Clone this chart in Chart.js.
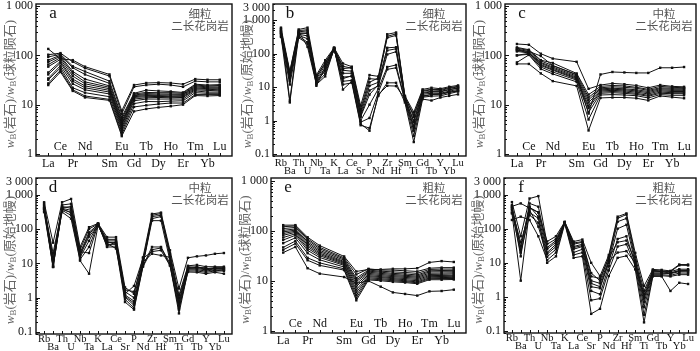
<!DOCTYPE html>
<html><head><meta charset="utf-8">
<script src="https://cdn.jsdelivr.net/npm/chart.js@4.4.1/dist/chart.umd.min.js"></script>
<style>
html,body{margin:0;padding:0;background:#fff;}
body{width:700px;height:351px;position:relative;overflow:hidden;}
canvas{position:absolute;}
</style></head><body>
<canvas id="pa"></canvas><canvas id="pb"></canvas><canvas id="pc"></canvas>
<canvas id="pd"></canvas><canvas id="pe"></canvas><canvas id="pf"></canvas>
<script>
// ---------- data ----------
const reeCategories = ['La','Ce','Pr','Nd','Pm','Sm','Eu','Gd','Tb','Dy','Ho','Er','Tm','Yb','Lu'];
const reeUpperRow = ['Ce','Nd','Eu','Tb','Ho','Tm','Lu'];
const reeHidden = ['Pm'];
const spiderCategories = ['Rb','Ba','Th','U','Nb','Ta','K','La','Ce','Sr','P','Nd','Zr','Hf','Sm','Ti','Gd','Tb','Y','Yb','Lu'];
const reeTickValues = [1, 10, 100, 1000];
const spiderTickValues = [0.1, 1, 10, 100, 1000, 3000];
const panelLetters = ['a','b','c','d','e','f'];
const grainSizes = ['细粒','细粒','中粒','中粒','粗粒','粗粒'];
const rockName = '二长花岗岩';
const reeTitle = '球粒陨石';
const spiderTitle = '原始地幔';
const rockWord = '岩石';

const reeFine = [
  [135, 85, 80, 59, null, 41, 7.5, 25, 27.5, 28, 27.5, 26, 33, 32, 32],
  [103, 111, 74, 55, null, 38, 6.5, 23, 25, 26, 25, 23, 30, 29, 29],
  [93, 105, 60, 47, null, 30, 5.6, 17, 19.7, 19, 18.5, 17.7, 26, 25, 25.5],
  [80, 101, 56, 41, null, 27, 5.1, 16.5, 17.7, 17.5, 17.5, 17, 25, 24, 24.5],
  [73, 96, 47, 33, null, 24, 4.6, 15.7, 16.8, 16.5, 16.5, 16.3, 24, 23, 23],
  [65, 90, 43, 29, null, 22.5, 4.2, 15.2, 16, 15.7, 15.8, 15.8, 23, 22, 22],
  [59, 83, 38, 26.5, null, 21, 4.0, 14.5, 15.3, 15.2, 15, 15.2, 22, 21, 21],
  [45, 76, 33, 24, null, 19.5, 3.7, 14, 14.5, 14.7, 14.5, 14.5, 21, 20.5, 20],
  [41, 70, 30, 22, null, 18, 3.4, 13, 13.8, 14, 13.8, 14, 20, 19.5, 19],
  [34, 62, 26.5, 20, null, 16.5, 3.1, 12, 13, 13, 13, 13, 19, 18, 18],
  [32, 56, 22, 17.5, null, 14.5, 2.8, 10.5, 11.6, 11.5, 11.8, 12, 17.5, 17, 17],
  [27, 50, 20, 15, null, 12.8, 2.5, 9, 9.7, 10.3, 10.8, 10.8, 16, 16, 16],
  [25, 46, 19, 14, null, 12.2, 2.3, 7.3, 8.2, 8.8, 9.3, 10, 15.3, 15, 15.3]
];
const spiderFine = [
  [600, 30, 530, 600, 23, 64, 150, 51, 41, 2.8, 23, 21, 380, 430, 5.5, 1.8, 8.6, 9.6, 9.0, 10.3, 11.3],
  [520, 25, 450, 480, 20, 55, 145, 42, 37, 2.2, 18, 17, 330, 390, 5.2, 1.3, 7.6, 8.3, 8.0, 9.2, 10.2],
  [470, 22, 400, 420, 18, 45, 140, 32, 30, 1.6, 11, 14, 150, 156, 4.8, 0.9, 6.6, 7.2, 7.2, 8.4, 9.3],
  [420, 20, 380, 340, 16, 38, 145, 26, 26, 1.3, 6, 12, 125, 140, 4.4, 0.7, 6.1, 6.6, 6.6, 7.6, 8.6],
  [390, 18, 350, 280, 15, 30, 140, 20, 21, 1.0, 3, 9, 40, 46, 4.1, 0.5, 5.5, 6.0, 6.0, 7.0, 8.0],
  [350, 3.5, 330, 220, 13, 25, 135, 15, 16, 0.9, 1.2, 7, 34, 38, 3.9, 0.35, 5.0, 5.4, 5.5, 6.4, 7.4],
  [560, 4, 460, 160, 12, 21, 140, 12, 13.5, 0.73, 0.6, 5.5, 13.5, 13.5, 3.5, 0.23, 4.4, 4.0, 4.9, 5.5, 6.1],
  [430, 15, 420, 400, 21, 50, 150, 8.5, 15, 0.8, 0.5, 6, 11, 10.8, 4.5, 1.0, 7.0, 7.5, 7.5, 8.5, 9.5],
  [480, 28, 490, 520, 11, 40, 150, 36, 38, 1.9, 14, 19, 300, 350, 5.0, 1.5, 8.0, 8.6, 8.5, 9.6, 10.6],
  [320, 12, 300, 200, 14, 33, 130, 18, 22, 1.4, 8, 11, 95, 115, 4.6, 0.6, 5.2, 6.1, 6.4, 7.1, 7.6]
];
const reeMedium = [
  [127, 120, 97, 62, null, 40, 6.6, 41, 46, 45, 44, 44, 56, 56, 58],
  [170, 164, 108, 86, null, 74, 21, 25, 27, 26, 24.5, 22, 25, 23.5, 23],
  [145, 130, 80, 70, null, 43, 16, 23.5, 24.5, 24, 22.5, 20.5, 23.5, 22.5, 22],
  [140, 125, 77, 62, null, 41, 14, 22, 23, 22.5, 21.5, 19.5, 22, 21.5, 21.5],
  [135, 118, 72, 58, null, 38, 12.5, 21, 21.5, 21, 20, 18.5, 21, 20.5, 20.5],
  [127, 113, 69, 55, null, 36, 11, 20, 20.5, 20, 19, 17.5, 20, 19.5, 19.5],
  [120, 112, 65, 52, null, 34.5, 9.5, 19, 19.5, 19, 18, 16.5, 19, 18.5, 18.5],
  [100, 110, 62, 50, null, 33, 8.5, 18, 18.5, 18, 17, 15.5, 18, 17.5, 17.5],
  [100, 105, 58, 46, null, 31.5, 7, 17, 17.5, 17, 16.2, 14.8, 17, 16.7, 16.7],
  [72, 102, 53, 42, null, 29, 5, 15.7, 16, 15.7, 15.2, 13.7, 16, 15.5, 15.5],
  [67, 67, 43, 30, null, 24, 3, 13.7, 14, 14, 13.5, 12.2, 15, 14.2, 13.5]
];
const spiderMedium = [
  [600, 40, 600, 750, 30, 113, 145, 58, 58, 2.0, 1.3, 15, 275, 300, 24, 1.85, 14.5, 16, 17, 19, 20],
  [550, 10, 500, 540, 25, 100, 140, 50, 50, 1.5, 1.0, 12, 250, 280, 20, 1.2, 8.5, 9, 8, 8, 8],
  [450, 9, 450, 400, 20, 80, 135, 45, 45, 1.2, 0.8, 10, 200, 230, 15, 0.8, 7.5, 8, 7, 7.5, 7.5],
  [400, 8, 400, 350, 17, 60, 130, 40, 40, 1.05, 0.6, 9, 175, 175, 12, 0.6, 7, 7, 6.5, 7, 7],
  [350, 8, 380, 300, 15, 45, 140, 35, 35, 0.9, 0.5, 8.5, 30, 30, 10, 0.45, 6.5, 6.5, 6, 6.5, 6.5],
  [310, 7.8, 350, 250, 13, 30, 145, 30, 30, 0.75, 0.45, 8, 25, 28, 9, 0.35, 6, 6, 5.5, 6, 6],
  [500, 12, 310, 200, 12, 5, 126, 38, 27, 1.3, 2.2, 14, 22, 24, 8.6, 0.5, 5.6, 5.5, 5, 5.5, 5],
  [380, 15, 420, 450, 22, 20, 135, 32, 42, 1.7, 1.5, 11, 19, 17, 15, 1.0, 8, 7.5, 7.5, 6, 6.5],
  [420, 20, 380, 300, 18, 70, 140, 42, 38, 1.1, 0.7, 10, 230, 250, 18, 0.7, 7.2, 7.5, 6.8, 7.2, 7.2]
];
const reeCoarse = [
  [37, 48, 18, 14, null, 12, 9, 10, 7.7, 5.9, 5.5, 5.1, 6.2, 6.3, 6.7],
  [131, 131, 75, 51, null, 31, 15.5, 17, 17, 17.5, 17.5, 18, 23.5, 25, 24],
  [122, 126, 70, 47, null, 29, 13.5, 17.5, 16.5, 16.5, 16, 15.5, 18, 18.5, 18.5],
  [112, 118, 66, 44, null, 27.5, 11.5, 16.5, 15.7, 15.2, 14.8, 14.2, 17, 17.3, 17.3],
  [103, 110, 61, 41, null, 26, 10.5, 15.7, 15, 14.2, 13.8, 13.2, 16, 16.2, 16.3],
  [96, 104, 57, 38.5, null, 24.5, 9.7, 15, 14.2, 13.5, 13, 12.5, 15.2, 15.3, 15.3],
  [89, 99, 53, 36, null, 23.5, 8.7, 14.2, 13.5, 12.8, 12.4, 11.9, 14.3, 14.4, 14.5],
  [82, 94, 49, 34, null, 22.5, 7.7, 13.5, 12.8, 12.2, 11.8, 11.3, 13.5, 13.6, 13.8],
  [74, 88, 45, 32, null, 21.5, 6.7, 12.8, 12.2, 11.6, 11.2, 10.7, 12.8, 12.9, 13],
  [66, 82, 41, 29.5, null, 20.5, 5.9, 12.2, 11.7, 11.1, 10.6, 10.1, 12.2, 12.3, 12.4],
  [57, 73, 36, 26.5, null, 19, 5.2, 11.6, 11.1, 10.6, 10.1, 9.6, 11.6, 11.7, 11.8],
  [47, 63, 29, 23, null, 17.5, 4.6, 11, 10.6, 10.1, 9.7, 9.2, 11.1, 11.2, 11.2],
  [42, 56, 26, 20.5, null, 16.5, 4.1, 10.5, 10.1, 9.6, 9.3, 8.8, 10.6, 10.6, 10.7]
];
const spiderCoarse = [
  [450, 550, 400, 300, 42, 60, 160, 42, 48, 10, 4.1, 17, 225, 280, 19.5, 2.1, 6.4, 6.2, 5.8, 8.9, 8.9],
  [600, 60, 765, 900, 35, 50, 155, 35, 40, 5, 3, 15, 200, 260, 15, 1.5, 6, 5.8, 5.5, 8.5, 8.4],
  [490, 24, 550, 440, 28, 45, 150, 30, 35, 3, 2.5, 12, 160, 200, 12, 1, 5.5, 5.5, 5, 6, 6],
  [390, 15.5, 450, 225, 20, 35, 145, 25, 30, 2, 1.8, 10, 100, 130, 10, 0.7, 5, 5, 4.8, 5.5, 5.5],
  [280, 3, 350, 115, 15, 25, 150, 20, 25, 1.5, 1.2, 8, 50, 60, 9, 0.5, 4.5, 4.5, 4.3, 5, 5],
  [180, 225, 180, 60, 12, 20, 145, 17, 20, 0.8, 0.9, 6, 30, 35, 8, 0.3, 4.2, 4.2, 4, 4.5, 4.5],
  [350, 40, 300, 200, 10, 15.5, 140, 14, 15.5, 0.32, 0.45, 4.1, 14, 16, 6.4, 0.18, 4, 4, 1.5, 2.6, 2.4],
  [420, 30, 420, 300, 25, 40, 155, 38, 42, 4, 3.5, 14, 40, 45, 11, 1.2, 5.8, 5.5, 5.5, 6.5, 6.5],
  [300, 20, 250, 150, 18, 30, 150, 28, 32, 2.5, 2, 11, 20, 22, 10, 0.9, 5, 5, 5, 5.8, 6]
];

// ---------- layout (page px) ----------
const panels = [
  {id:'pa', kind:'ree',    series:reeFine,      canvas:[0,0,236,178],   box:[36,3,232,156]},
  {id:'pb', kind:'spider', series:spiderFine,   canvas:[236,0,234,180], box:[273,3,466,156]},
  {id:'pc', kind:'ree',    series:reeMedium,    canvas:[470,0,230,178], box:[505,3,697,156]},
  {id:'pd', kind:'spider', series:spiderMedium, canvas:[0,171,236,180], box:[36,178,232,334]},
  {id:'pe', kind:'ree',    series:reeCoarse,    canvas:[236,171,234,180], box:[271,178,466,333]},
  {id:'pf', kind:'spider', series:spiderCoarse, canvas:[470,171,230,180], box:[504,178,697,333]}
];

function fmtTick(v){ return v >= 1000 ? String(v).replace(/\B(?=(\d{3})+$)/g, ' ') : String(v); }

const decor = {
  id:'decor',
  afterDraw(chart, args, o) {
    const {ctx, chartArea:ca, scales:{x, y}} = chart;
    ctx.save();
    ctx.strokeStyle = '#111';
    ctx.lineWidth = 1;
    ctx.beginPath();
    x.ticks.forEach(t => { const px = Math.round(x.getPixelForValue(t.value)) + 0.5; ctx.moveTo(px, ca.bottom); ctx.lineTo(px, ca.bottom - 3); });
    const lo = Math.floor(Math.log10(y.min)), hi = Math.ceil(Math.log10(y.max));
    for (let d = lo; d <= hi; d++) {
      for (let m = 1; m <= 9; m++) {
        const v = m * Math.pow(10, d);
        if (v < y.min || v > y.max) continue;
        const py = Math.round(y.getPixelForValue(v)) + 0.5;
        ctx.moveTo(ca.left, py); ctx.lineTo(ca.left + (m === 1 ? 4 : 2), py);
      }
    }
    ctx.stroke();
    ctx.lineWidth = 1.4;
    ctx.strokeRect(ca.left, ca.top, ca.right - ca.left, ca.bottom - ca.top);
    // panel letter
    ctx.fillStyle = '#111';
    ctx.font = '17px "Liberation Serif"';
    ctx.textAlign = 'center'; ctx.textBaseline = 'middle';
    ctx.fillText(o.letter, ca.left + 17, ca.top + 10);
    // rock label
    ctx.fillStyle = '#555';
    ctx.font = '11.5px "Noto Sans CJK SC"';
    ctx.fillText(o.grain, ca.right - 32, ca.top + 10);
    ctx.fillText(rockName, ca.right - 32, ca.top + 22);
    // y title with subscripts
    const base = '13px "Liberation Serif", "Noto Sans CJK SC"';
    const ital = 'italic 13px "Liberation Serif"';
    const sub = '9px "Liberation Serif"';
    const parts = [
      {t:'w', f:ital, dy:0}, {t:'B', f:sub, dy:3}, {t:'(' + rockWord + ')/', f:base, dy:0},
      {t:'w', f:ital, dy:0}, {t:'B', f:sub, dy:3}, {t:'(' + o.norm + ')', f:base, dy:0}
    ];
    ctx.translate(ca.left - 25, (ca.top + ca.bottom) / 2 + 4);
    ctx.rotate(-Math.PI / 2);
    let total = 0;
    parts.forEach(p => { ctx.font = p.f; p.w = ctx.measureText(p.t).width; total += p.w; });
    let cx = -total / 2;
    ctx.textAlign = 'left';
    ctx.fillStyle = '#666';
    parts.forEach(p => { ctx.font = p.f; ctx.fillText(p.t, cx, p.dy); cx += p.w; });
    ctx.restore();
  }
};

panels.forEach((p, idx) => {
  const [cx, cy, cw, ch] = p.canvas;
  const [bl, bt, br, bb] = p.box;
  const cv = document.getElementById(p.id);
  cv.width = cw; cv.height = ch;
  cv.style.left = cx + 'px'; cv.style.top = cy + 'px';
  const isRee = p.kind === 'ree';
  const cats = isRee ? reeCategories : spiderCategories;
  const yTicks = isRee ? reeTickValues : spiderTickValues;
  const pad = isRee ? 1 : 0.9;
  const bottomRow = idx >= 3;
  const datasets = p.series.map(vals => ({
    data: cats.map((c, i) => ({x:i, y:vals[i]})).filter(d => d.y != null),
    borderColor:'#111', borderWidth:1, tension:0, fill:false,
    pointStyle:'rect', pointRadius:1.7, pointBorderWidth:0, pointBackgroundColor:'#111'
  }));
  const xTicks = isRee
    ? {mirror:true, padding:0.5, font:{family:'Liberation Serif', size:12, lineHeight:'17.6px'}}
    : {mirror:false, padding: bottomRow ? 1.5 : 3, font:{family:'Liberation Serif', size:10.5, lineHeight: bottomRow ? '8px' : '8.4px'}};
  new Chart(cv, {
    type:'line',
    data:{datasets},
    options:{
      responsive:false, animation:false, devicePixelRatio:1,
      layout:{padding:{left:0, top:bt - cy, right:cx + cw - br, bottom:0}},
      plugins:{legend:{display:false}, tooltip:{enabled:false},
        decor:{letter:panelLetters[idx], grain:grainSizes[idx], norm: isRee ? reeTitle : spiderTitle}},
      scales:{
        x:{type:'linear', min:-pad, max:cats.length - 1 + pad,
          grid:{display:false, drawTicks:false}, border:{display:false},
          afterBuildTicks: s => { s.ticks = cats.map((c, i) => ({value:i})); },
          afterFit: s => { s.height = cy + ch - bb; s.paddingLeft = 0; s.paddingRight = 0; },
          ticks:Object.assign({autoSkip:false, maxRotation:0, minRotation:0, color:'#111',
            callback: v => {
              const name = cats[v];
              if (name === undefined || reeHidden.includes(name) && isRee) return '';
              if (isRee) return reeUpperRow.includes(name) ? [name, ''] : ['', name];
              return v % 2 === 0 ? [name, ''] : ['', name];
            }}, xTicks)
        },
        y:{type:'logarithmic', min: isRee ? 0.91 : 0.088, max: isRee ? (bottomRow ? 1150 : 1100) : 3050,
          grid:{display:false, drawTicks:false}, border:{display:false},
          afterBuildTicks: s => { s.ticks = yTicks.map(v => ({value:v})); },
          afterFit: s => { s.width = bl - cx; s.paddingTop = 0; s.paddingBottom = 0; },
          ticks:{padding:3, color:'#111', font:{family:'Liberation Serif', size:12, lineHeight:'8px'},
            callback: v => v === 3000 ? ['', fmtTick(v)] : fmtTick(v)}
        }
      }
    },
    plugins:[decor]
  });
});
</script>
</body></html>
